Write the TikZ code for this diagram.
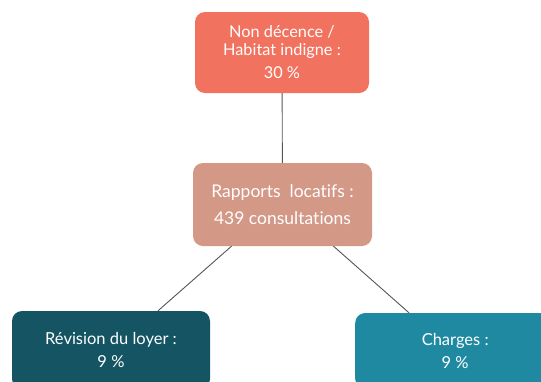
\documentclass[tikz,border=0pt]{standalone}
\usepackage{fontspec}
\setmainfont{Lato}[Ligatures=NoCommon]
\usepackage{tikz}

\definecolor{decence}{RGB}{241,114,94}
\definecolor{rapports}{RGB}{212,152,134}
\definecolor{loyer}{RGB}{20,84,99}
\definecolor{charges}{RGB}{31,137,161}
\definecolor{trait}{RGB}{85,85,85}

\tikzset{
	box/.style={rounded corners=10pt, text=white, align=center, inner sep=0pt},
	lien/.style={draw=trait, line width=0.9pt}
}

\begin{document}
\begin{tikzpicture}[x=1pt,y=-1pt]
	\useasboundingbox (0,0) rectangle (541,381);
	\clip (0,0) rectangle (541,381);

	\node[box, fill=decence, minimum width=174pt, minimum height=81pt, font=\fontsize{16.3}{17.5}\selectfont] (decence) at (282,52.5) {Non décence /\\Habitat indigne :\\[6pt]30 \%};
	\node[box, fill=rapports, minimum width=179pt, minimum height=83pt, font=\fontsize{17.5}{27}\selectfont] (rapports) at (282.5,204.5) {Rapports\ \ locatifs :\\439 consultations};
	\node[box, fill=loyer, minimum width=198pt, minimum height=78pt, font=\fontsize{16.5}{23}\selectfont] (loyer) at (111,350) {Révision du loyer :\\9 \%};
	\node[box, fill=charges, minimum width=200pt, minimum height=76pt, anchor=west, align=left, font=\fontsize{16.5}{23}\selectfont] (charges) at (355,351) {\makebox[176pt]{Charges :}\\\makebox[176pt]{9 \%}};

	\path [lien] (decence) edge (rapports);
	\path [lien] ([xshift=-51pt]rapports.south) edge ([xshift=47pt]loyer.north);
	\path [lien] ([xshift=51pt]rapports.south) edge ([xshift=54pt]charges.north west);
\end{tikzpicture}
\end{document}
